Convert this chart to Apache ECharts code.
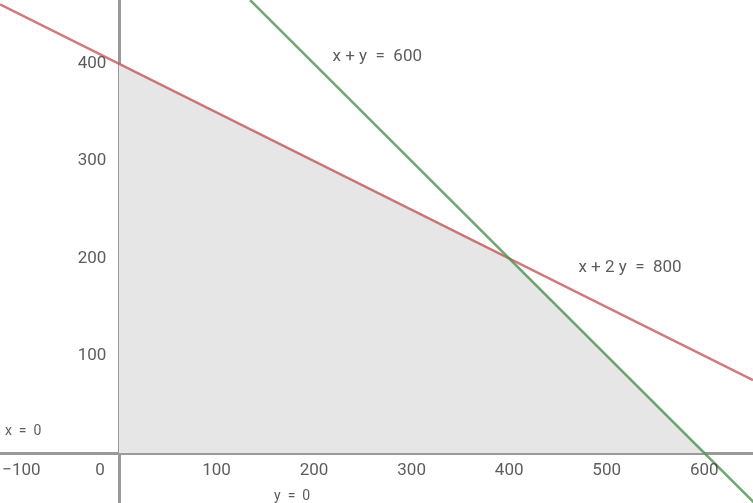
<!DOCTYPE html>
<html><head><meta charset="utf-8">
<script src="https://cdn.jsdelivr.net/npm/echarts@6/dist/echarts.min.js"></script>
<style>html,body{margin:0;padding:0;background:#fff}#c{width:753px;height:503px}</style>
</head><body><div id="c"></div>
<script>
const xTicks = [-100, 100, 200, 300, 400, 500, 600];
const yTicks = [100, 200, 300, 400];
const redLine = [[-122, 461], [650, 75]];      // x + 2y = 800
const greenLine = [[134.4, 465.6], [651.4, -51.4]]; // x + y = 600
const region = [[0, 400], [400, 200], [600, 0]];
const notes = [
  {text: 'x + y  =  600', pos: [219, 407], size: 17},
  {text: 'x + 2 y  =  800', pos: [471, 190], size: 17},
  {text: 'x  =  0', pos: [-117, 21.6], size: 14},
  {text: 'y  =  0', pos: [159, -45], size: 14}
];
const chart = echarts.init(document.getElementById('c'));
const font = 'Roboto, sans-serif';
chart.setOption({
  animation: false,
  grid: {left: 0, right: 0, top: 0, bottom: 0},
  xAxis: {type: 'value', min: -122, max: 650, splitLine: {show: false},
    axisLabel: {show: false}, axisTick: {show: false},
    axisLine: {onZero: true, lineStyle: {color: '#9a9a9a', width: 3}}},
  yAxis: {type: 'value', min: -51.4, max: 465.6, splitLine: {show: false},
    axisLabel: {show: false}, axisTick: {show: false},
    axisLine: {onZero: true, lineStyle: {color: '#9a9a9a', width: 3}}},
  series: [
    {type: 'line', data: region, symbol: 'none', z: 1,
     lineStyle: {color: '#d8d8d8', width: 1}, areaStyle: {color: '#e6e6e6', opacity: 1}},
    {type: 'line', data: redLine, symbol: 'none', z: 3,
     lineStyle: {color: 'rgba(195,90,90,0.8)', width: 2.5}},
    {type: 'line', data: greenLine, symbol: 'none', z: 3,
     lineStyle: {color: 'rgba(80,145,80,0.8)', width: 2.5}},
    {type: 'scatter', symbolSize: 0, z: 4,
     data: xTicks.map(v => [v, -18.5]).concat([[-19.5, -18.5]]),
     label: {show: true, position: 'inside', fontFamily: font, fontSize: 17, color: '#333',
       formatter: p => p.value[0] === -19.5 ? '0' : (p.value[0] < 0 ? '\u2212' + (-p.value[0]) : String(p.value[0]))}},
    {type: 'scatter', symbolSize: 0, z: 4,
     data: yTicks.map(v => [-13, v]),
     label: {show: true, position: 'left', distance: 0, fontFamily: font, fontSize: 17, color: '#333',
       formatter: p => String(p.value[1])}},
    {type: 'scatter', symbolSize: 0, z: 5,
     data: notes.map(n => ({value: n.pos, name: n.text, label: {fontSize: n.size}})),
     label: {show: true, position: 'right', distance: 0, fontFamily: font, color: '#333',
       formatter: p => p.name}}
  ]
});
</script></body></html>
